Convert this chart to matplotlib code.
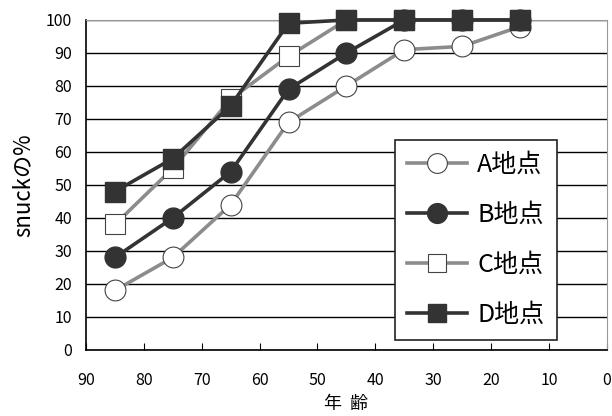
import matplotlib
matplotlib.use("Agg")
import matplotlib.pyplot as plt

plt.rcParams['font.family'] = ['Noto Sans CJK JP', 'DejaVu Sans']

ages = [85, 75, 65, 55, 45, 35, 25, 15]
site_a = [18, 28, 44, 69, 80, 91, 92, 98]
site_b = [28, 40, 54, 79, 90, 100, 100, 100]
site_c = [38, 55, 76, 89, 100, 100, 100, 100]
site_d = [48, 58, 74, 99, 100, 100, 100, 100]
labels = ["A地点", "B地点", "C地点", "D地点"]

fig = plt.figure(figsize=(6.12, 4.16), dpi=100)
ax = fig.add_axes([0.1405, 0.159, 0.851, 0.793])

dark = "#333333"
gray = "#8c8c8c"
ms = 15
common = dict(lw=2.6, clip_on=False)
ax.plot(ages, site_a, color=gray, marker="o", ms=ms, mfc="white",
        mec="#444444", mew=0.8, label=labels[0], zorder=3, **common)
ax.plot(ages, site_b, color=dark, marker="o", ms=ms, mfc=dark,
        mec=dark, label=labels[1], zorder=4, **common)
ax.plot(ages, site_c, color=gray, marker="s", ms=ms - 1, mfc="white",
        mec="#444444", mew=0.8, label=labels[2], zorder=5, **common)
ax.plot(ages, site_d, color=dark, marker="s", ms=ms - 1, mfc=dark,
        mec=dark, label=labels[3], zorder=6, **common)

ax.set_xlim(90, 0)
ax.set_ylim(0, 100)
ax.set_xticks(range(90, -1, -10))
ax.set_yticks(range(0, 101, 10))
ax.yaxis.grid(True, color="black", lw=1)
ax.set_axisbelow(True)
ax.tick_params(axis="x", direction="in", length=5, labelsize=11.5, pad=16)
ax.tick_params(axis="y", length=0, labelsize=11.5, pad=10)
for side in ("top", "right"):
    ax.spines[side].set_color("#999999")
for side in ("left", "bottom"):
    ax.spines[side].set_linewidth(1.2)

ax.set_ylabel("snuckの%", fontsize=16, labelpad=8)
ax.set_xlabel("年  齢", fontsize=13, labelpad=4)

leg = ax.legend(loc="lower right", bbox_to_anchor=(0.904, 0.03),
                borderaxespad=0, fontsize=18, frameon=True, fancybox=False,
                edgecolor="#222222", framealpha=1, handlelength=2.4,
                markerscale=0.95, labelspacing=0.95, borderpad=0.5,
                handletextpad=0.4)
leg.get_frame().set_linewidth(1.2)
leg.set_zorder(10)

fig.savefig("out.png", dpi=100)
